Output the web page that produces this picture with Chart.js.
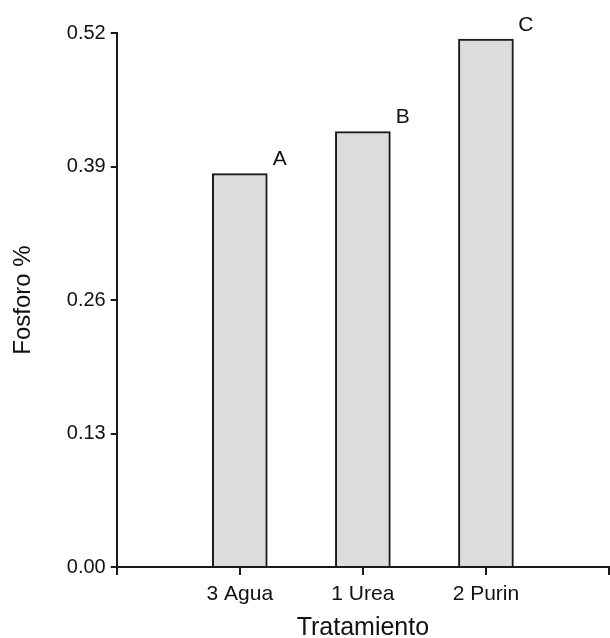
<!DOCTYPE html>
<html>
<head>
<meta charset="utf-8">
<script src="https://cdn.jsdelivr.net/npm/chart.js@4/dist/chart.umd.min.js"></script>
<style>
  html, body { margin: 0; padding: 0; background: #ffffff; }
  #wrap { width: 610px; height: 638px; }
</style>
</head>
<body>
<div id="wrap"><canvas id="c" width="610" height="638"></canvas></div>
<script>
// ---- data ----
const categories = ["3 Agua", "1 Urea", "2 Purin"];
const fosforo = [0.383, 0.424, 0.514];
const groupLetters = ["A", "B", "C"];
const yTickValues = [0.00, 0.13, 0.26, 0.39, 0.52];
const xTitle = "Tratamiento";
const yTitle = "Fosforo %";

const FONT = '"Liberation Sans", Arial, sans-serif';
const INK = '#111111';

const barData = categories.map((c, i) => ({ x: i, y: fosforo[i] }));

const letterPlugin = {
  id: 'groupLetters',
  afterDatasetsDraw(chart) {
    const meta = chart.getDatasetMeta(0);
    const ctx = chart.ctx;
    ctx.save();
    ctx.font = '21px ' + FONT;
    ctx.fillStyle = INK;
    ctx.textAlign = 'center';
    ctx.textBaseline = 'middle';
    meta.data.forEach((bar, i) => {
      const p = bar.getProps(['x', 'y', 'width'], true);
      ctx.fillText(groupLetters[i], p.x + p.width / 2 + 12.5, p.y - 14);
    });
    ctx.restore();
  }
};

new Chart(document.getElementById('c'), {
  type: 'bar',
  data: {
    datasets: [{
      data: barData,
      backgroundColor: '#dcdcdc',
      borderColor: '#1a1a1a',
      borderWidth: 2,
      borderSkipped: 'bottom',
      barThickness: 55
    }]
  },
  plugins: [letterPlugin],
  options: {
    responsive: false,
    animation: false,
    events: [],
    layout: { padding: { top: 33, left: 0, right: 1, bottom: 0 } },
    plugins: {
      legend: { display: false },
      tooltip: { enabled: false }
    },
    scales: {
      x: {
        type: 'linear',
        min: -1,
        max: categories.length,
        offset: false,
        grid: {
          offset: false,
          drawOnChartArea: false,
          drawTicks: true,
          tickLength: 8,
          tickColor: '#1a1a1a',
          lineWidth: 2
        },
        border: { display: true, color: '#1a1a1a', width: 2 },
        ticks: {
          stepSize: 1,
          autoSkip: false,
          maxRotation: 0,
          padding: 0,
          color: INK,
          font: { family: FONT, size: 21, lineHeight: '38px' },
          callback: (v) => (categories[v] !== undefined ? categories[v] : '')
        },
        title: {
          display: true,
          text: xTitle,
          color: INK,
          font: { family: FONT, size: 25, lineHeight: 0.8 },
          padding: { top: 5, bottom: 0 }
        }
      },
      y: {
        type: 'linear',
        min: 0,
        max: 0.52,
        grid: {
          drawOnChartArea: false,
          drawTicks: true,
          tickLength: 6,
          tickColor: '#1a1a1a',
          lineWidth: 2
        },
        border: { display: true, color: '#1a1a1a', width: 2 },
        afterBuildTicks: (scale) => { scale.ticks = yTickValues.map(v => ({ value: v })); },
        ticks: {
          padding: 5,
          color: INK,
          font: { family: FONT, size: 20 },
          callback: (v) => Number(v).toFixed(2)
        },
        title: {
          display: true,
          text: yTitle,
          color: INK,
          font: { family: FONT, size: 24, lineHeight: 1.2 },
          padding: { top: 9, bottom: 24 }
        }
      }
    }
  }
});
</script>
</body>
</html>
